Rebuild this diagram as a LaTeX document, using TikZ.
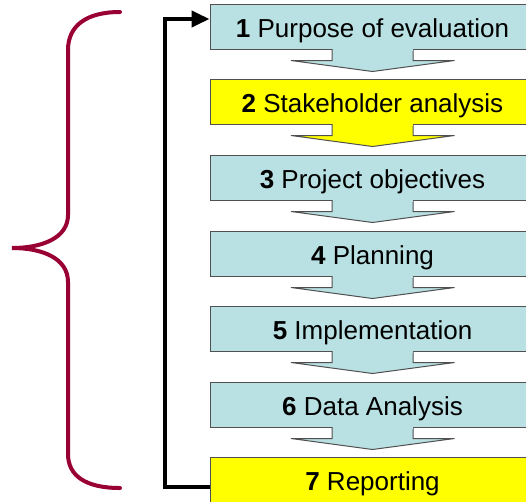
\documentclass[tikz,border=0pt]{standalone}
\usepackage{fontspec}
\setmainfont{Liberation Sans}
\usetikzlibrary{calc,arrows.meta}

\definecolor{stepblue}{RGB}{185,224,226}
\definecolor{stepyellow}{RGB}{255,255,0}
\definecolor{stepline}{RGB}{80,80,80}
\definecolor{bracered}{RGB}{153,0,51}

\tikzset{stepbox/.style={draw=stepline,line width=1pt,minimum width=325pt,
    minimum height=45pt,inner sep=0pt,text height=21pt,text depth=0pt,
    font=\fontsize{26}{30}\selectfont}}

% arrow part under a box: #1 box name, #2 fill colour
\newcommand{\StepArrow}[2]{%
  \filldraw[fill=#2,draw=stepline,line width=1pt,line join=miter]
    ($(#1.south)+(-40.5,0)$) -- ++(0,11) -- ++(-41,0)
    -- ($(#1.south)+(0,22)$) -- ($(#1.south)+(82,11)$)
    -- ++(-41.5,0) -- ++(0,-11);
  \fill[#2] ($(#1.south)+(-40,-1)$) rectangle ($(#1.south)+(40,1.2)$);
}

\begin{document}
\begin{tikzpicture}[x=1pt,y=-1pt]
  \useasboundingbox (0,0) rectangle (526,501);

  % steps
  \node[stepbox,fill=stepblue]   (b1) at (372.5,26.5)  {\textbf{1} Purpose of evaluation};
  \node[stepbox,fill=stepyellow] (b2) at (372.5,101.5) {\textbf{2} Stakeholder analysis};
  \node[stepbox,fill=stepblue]   (b3) at (372.5,177.5) {\textbf{3} Project objectives};
  \node[stepbox,fill=stepblue]   (b4) at (372.5,253.5) {\textbf{4} Planning};
  \node[stepbox,fill=stepblue]   (b5) at (372.5,328.5) {\textbf{5} Implementation};
  \node[stepbox,fill=stepblue]   (b6) at (372.5,404.5) {\textbf{6} Data Analysis};
  \node[stepbox,fill=stepyellow] (b7) at (372.5,479.5) {\textbf{7} Reporting};

  % arrows between steps
  \StepArrow{b1}{stepblue}
  \StepArrow{b2}{stepyellow}
  \StepArrow{b3}{stepblue}
  \StepArrow{b4}{stepblue}
  \StepArrow{b5}{stepblue}
  \StepArrow{b6}{stepblue}

  % loop back to the first step
  \coordinate (loop) at (164.5,19);
  \draw[line width=4pt,line join=miter,-{Triangle[length=18pt,width=16pt]}]
    ($(b7.west)+(0,7.5)$) -| (loop) -- ($(b1.west)+(0,-7.5)$);

  % brace
  \draw[bracered,line width=4pt,line cap=round]
    (120,12) .. controls (86,12) and (68,26) .. (68,50) -- (68,215)
    .. controls (68,238) and (42,248) .. (12,248)
    .. controls (42,248) and (68,258) .. (68,282) -- (68,454)
    .. controls (68,476) and (86,488) .. (120,488);
\end{tikzpicture}
\end{document}
